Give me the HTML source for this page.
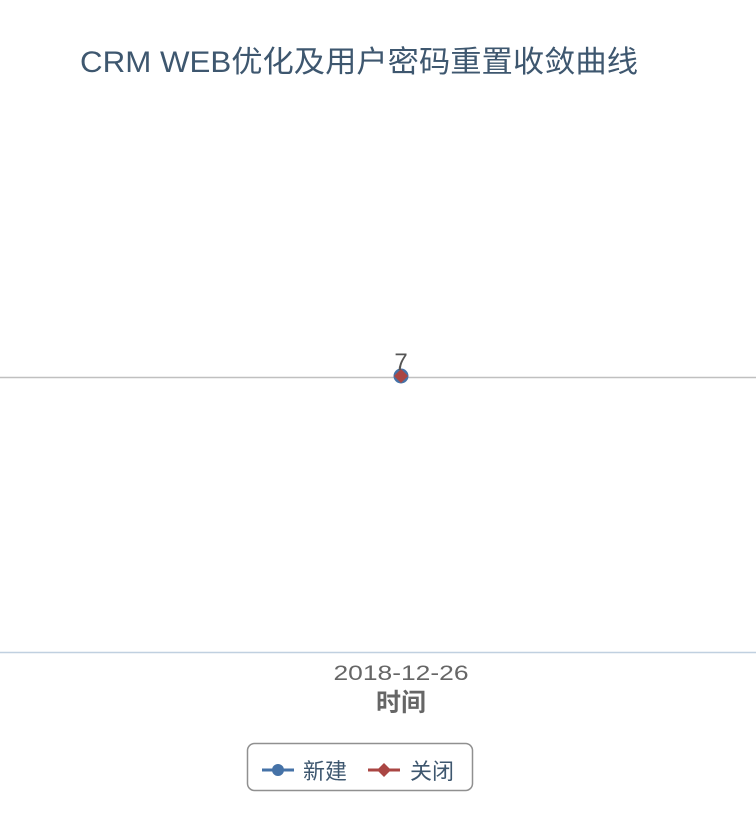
<!DOCTYPE html>
<html><head><meta charset="utf-8"><style>
body{margin:0;background:#fff;width:756px;height:828px;overflow:hidden;font-family:"Liberation Sans","Noto Sans CJK SC",sans-serif}
</style></head><body>
<svg id="chart" width="756" height="828">
<text x="80" y="72" font-size="30" fill="#3e576f" textLength="558" lengthAdjust="spacingAndGlyphs" font-family="Liberation Sans, Noto Sans CJK SC, sans-serif">CRM WEB优化及用户密码重置收敛曲线</text>
<g id="grid"></g>
<line x1="0" y1="652.5" x2="756" y2="652.5" stroke="#c0d0e0" stroke-width="1.5"/>
<g id="xlabels"></g>
<text x="401" y="711" font-size="25" font-weight="bold" fill="#666" text-anchor="middle">时间</text>
<g id="series"></g>
<g>
<rect x="247.5" y="743.5" width="225" height="47" rx="7" fill="#fff" stroke="#909090" stroke-width="1.5"/>
<g>
<line x1="262" y1="770" x2="294" y2="770" stroke="#4572a7" stroke-width="3"/>
<circle cx="278" cy="770" r="6" fill="#4572a7"/>
<text x="303" y="779" font-size="22" fill="#3e576f">新建</text></g>
<g>
<line x1="368" y1="770" x2="400" y2="770" stroke="#aa4643" stroke-width="3"/>
<path d="M384 763 L391 770 L384 777 L377 770Z" fill="#aa4643"/>
<text x="410" y="779" font-size="22" fill="#3e576f">关闭</text></g>
</g>
</svg>
<script>
const categories=["2018-12-26"];
const newValues=[7];
const closedValues=[7];
const yTicks=[7];
const NS="http://www.w3.org/2000/svg";
const yMin=0,yMax=14,plotTop=100,plotBottom=652;
function yPos(v){return plotBottom-(v-yMin)/(yMax-yMin)*(plotBottom-plotTop);}
function xPos(i){return 401+(i-(categories.length-1)/2)*200;}
function mk(t,a,p){const e=document.createElementNS(NS,t);for(const k in a)e.setAttribute(k,a[k]);p.appendChild(e);return e;}
const grid=document.getElementById('grid');
yTicks.forEach(t=>{const l=mk('line',{x1:0,x2:756,y1:yPos(t)+1.5,y2:yPos(t)+1.5,stroke:'#c0c0c0','stroke-width':1.5},grid);

});
const xl=document.getElementById('xlabels');
categories.forEach((c,i)=>{const t=mk('text',{x:xPos(i),y:680,'font-size':21,fill:'#666','text-anchor':'middle',textLength:135,lengthAdjust:'spacingAndGlyphs'},xl);t.textContent=c;

});
const s=document.getElementById('series');
newValues.forEach((v,i)=>{const c=mk('circle',{cx:xPos(i),cy:yPos(v),r:7.5,fill:'#4572a7'},s);

});
closedValues.forEach((v,i)=>{const cx=xPos(i),cy=yPos(v);const p=mk('path',{d:`M${cx} ${cy-7}L${cx+7} ${cy}L${cx} ${cy+7}L${cx-7} ${cy}Z`,fill:'#aa4643'},s);


const t=mk('text',{x:cx,y:cy-6,'font-size':24,fill:'#555','text-anchor':'middle'},s);t.textContent=v;

});
</script>
</body></html>
